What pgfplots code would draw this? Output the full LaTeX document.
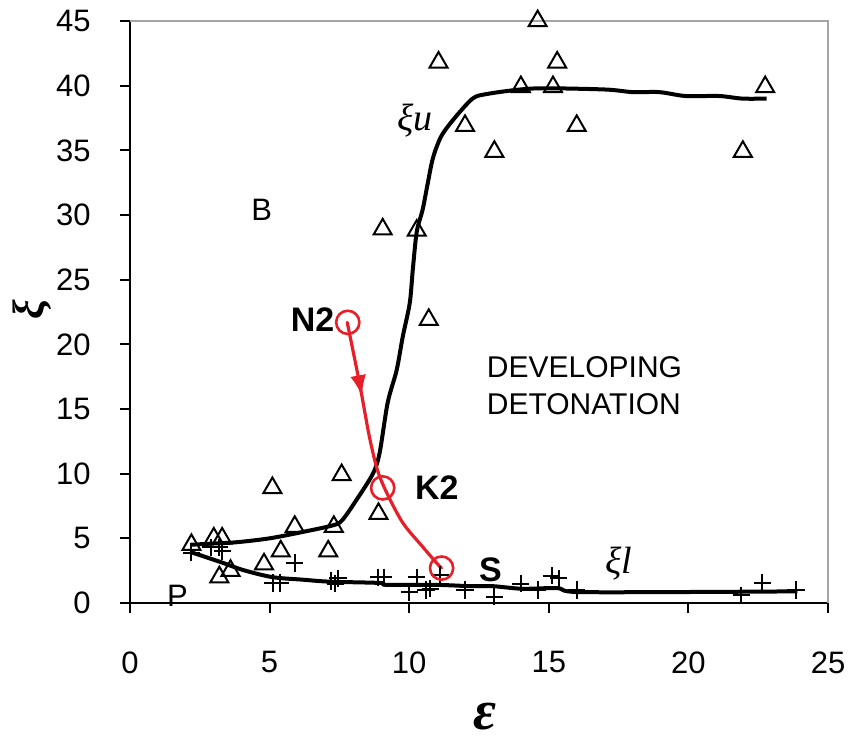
\documentclass[border=0pt]{standalone}
\usepackage{fontspec}
\setmainfont{Liberation Sans}
\newfontfamily\grk{Liberation Serif}
\usepackage{pgfplots}
\pgfplotsset{compat=1.18}
\usetikzlibrary{decorations.markings,arrows.meta}
\definecolor{cred}{RGB}{232,30,40}
\definecolor{cgray}{RGB}{165,165,165}

\begin{document}
\begin{tikzpicture}
\path[use as bounding box] (-65pt,-69.5pt) rectangle (362pt,301.5pt);
\begin{axis}[
  scale only axis, width=349pt, height=291pt,
  xmin=0, xmax=25, ymin=0, ymax=45,
  xtick={0,5,...,25}, ytick={0,5,...,45},
  axis x line*=bottom, axis y line*=left,
  axis line style={black, line width=1pt},
  tick align=outside, major tick length=5pt,
  tick style={black, line width=1pt},
  ticklabel style={font=\fontsize{15.5}{18}\selectfont, inner sep=0pt},
  /pgf/number format/assume math mode=true,
  xticklabel style={anchor=north, yshift=-19pt},
  yticklabel style={anchor=east, xshift=-14.5pt},
  clip=false,
]
\draw[cgray, line width=1pt] (rel axis cs:0,1) -- (rel axis cs:1,1) -- (rel axis cs:1,0);

% upper fit curve (xi_u)
\addplot[black, line width=2pt, smooth, no markers] coordinates {
(2.15,4.5) (3.0,4.6) (3.83,4.7) (5.0,5.0) (6.2,5.5) (7.26,6.0) (7.6,6.4)
(8.12,8.0) (8.7,10.0) (8.94,11.6) (9.23,15.5) (9.55,18.0) (9.77,20.6)
(10.02,23.2) (10.13,25.8) (10.27,28.7) (10.48,30.4) (10.66,32.4) (10.85,34.4)
(11.15,36.1) (11.63,37.5) (12.27,39.0) (12.77,39.35) (13.95,39.7) (14.9,39.8)
(17.05,39.7) (18.0,39.5) (18.96,39.5) (19.9,39.2) (21.1,39.2) (21.93,39.0) (22.8,39.0)
};
% lower fit curve (xi_l)
\addplot[black, line width=2pt, smooth, no markers] coordinates {
(2.15,3.95) (3.2,3.2) (4.05,2.55) (5.1,2.0) (6.2,1.8) (7.15,1.65) (8.95,1.55)
(9.2,1.4) (11.0,1.4) (12.2,1.3) (13.0,1.3) (14.05,1.1) (15.3,1.15) (16.0,0.85)
(20.0,0.85) (23.9,0.9)
};
% xi_u data (triangles)
\addplot[only marks, mark=triangle, mark size=5.2pt, mark options={black, line width=1pt}] coordinates {
(14.6,45.0) (11.05,41.8) (15.3,41.8) (14.0,39.9) (15.15,39.9) (22.75,39.9)
(12.0,36.9) (16.0,36.9) (13.05,34.9) (21.95,34.9) (9.05,28.9) (10.27,28.8)
(10.7,21.9) (7.58,9.9) (5.1,8.9) (8.9,6.9) (5.9,5.9) (7.3,5.9) (2.2,4.5)
(3.0,5.0) (3.3,5.0) (5.4,4.0) (7.1,4.0) (4.8,3.0) (3.2,2.0) (3.6,2.5)
};
% xi_l data (plus)
\addplot[only marks, mark=+, mark size=4.3pt, mark options={black, line width=1pt}] coordinates {
(2.2,3.9) (2.9,4.3) (3.2,4.3) (3.3,4.0) (5.9,3.1) (5.12,1.55) (5.37,1.55)
(7.2,1.7) (7.45,1.9) (7.35,1.5) (8.9,2.0) (9.08,2.0) (10.0,0.85) (10.27,2.0)
(10.6,1.0) (10.75,1.1) (11.1,2.2) (12.0,1.0) (13.05,0.5) (14.0,1.5) (14.6,1.0)
(15.1,2.1) (15.35,1.9) (16.0,1.0) (21.9,0.6) (22.65,1.55) (23.85,1.0)
};
% red path N2 -> K2 -> S
\addplot[cred, line width=1.6pt, smooth, no markers, line cap=round,
  postaction={decorate},
  decoration={markings, mark=at position 0.28 with {\arrow{Latex[length=10.5pt,width=8pt]}}}]
  coordinates {
(7.78,21.7) (8.22,17.0) (8.57,12.9) (8.86,10.3) (9.2,8.5) (9.77,6.2)
(10.48,4.35) (10.98,3.1) (11.16,2.7)
};
\addplot[only marks, mark=o, mark size=5.8pt, mark options={cred, line width=1.3pt}] coordinates {
(7.8,21.7) (9.05,8.9) (11.16,2.7)
};

% labels
\node[font=\fontsize{15.5}{16}\selectfont] at (axis cs:4.72,30.4) {B};
\node[font=\fontsize{15.5}{16}\selectfont, anchor=base, inner sep=0pt] at (axis cs:1.7,-0.3) {P};
\node[font=\grk\itshape\fontsize{19}{19}\selectfont, anchor=base, inner sep=0pt] at (axis cs:10.2,36.5) {ξu};
\node[font=\grk\itshape\fontsize{19}{19}\selectfont, anchor=base, inner sep=0pt] at (axis cs:17.5,2.3) {ξl};
\node[font=\bfseries\fontsize{17}{17}\selectfont, anchor=east, inner sep=0pt] at (axis cs:7.33,21.9) {N2};
\node[font=\bfseries\fontsize{17}{17}\selectfont, anchor=west, inner sep=0pt] at (axis cs:10.2,8.9) {K2};
\node[font=\bfseries\fontsize{17}{17}\selectfont, anchor=west, inner sep=0pt] at (axis cs:12.49,2.55) {S};
\node[font=\fontsize{15}{15}\selectfont, anchor=west, inner sep=0pt] at (axis cs:12.77,18.25) {DEVELOPING};
\node[font=\fontsize{15}{15}\selectfont, anchor=west, inner sep=0pt] at (axis cs:12.77,15.4) {DETONATION};
\node[rotate=90, font=\grk\bfseries\itshape\fontsize{22}{22}\selectfont, inner sep=0pt] at (axis cs:-3.5,22.7) {ξ};
\node[font=\grk\bfseries\itshape\fontsize{28}{28}\selectfont, anchor=base, inner sep=0pt] at (axis cs:12.7,-9.8) {ε};
\end{axis}
\end{tikzpicture}
\end{document}
